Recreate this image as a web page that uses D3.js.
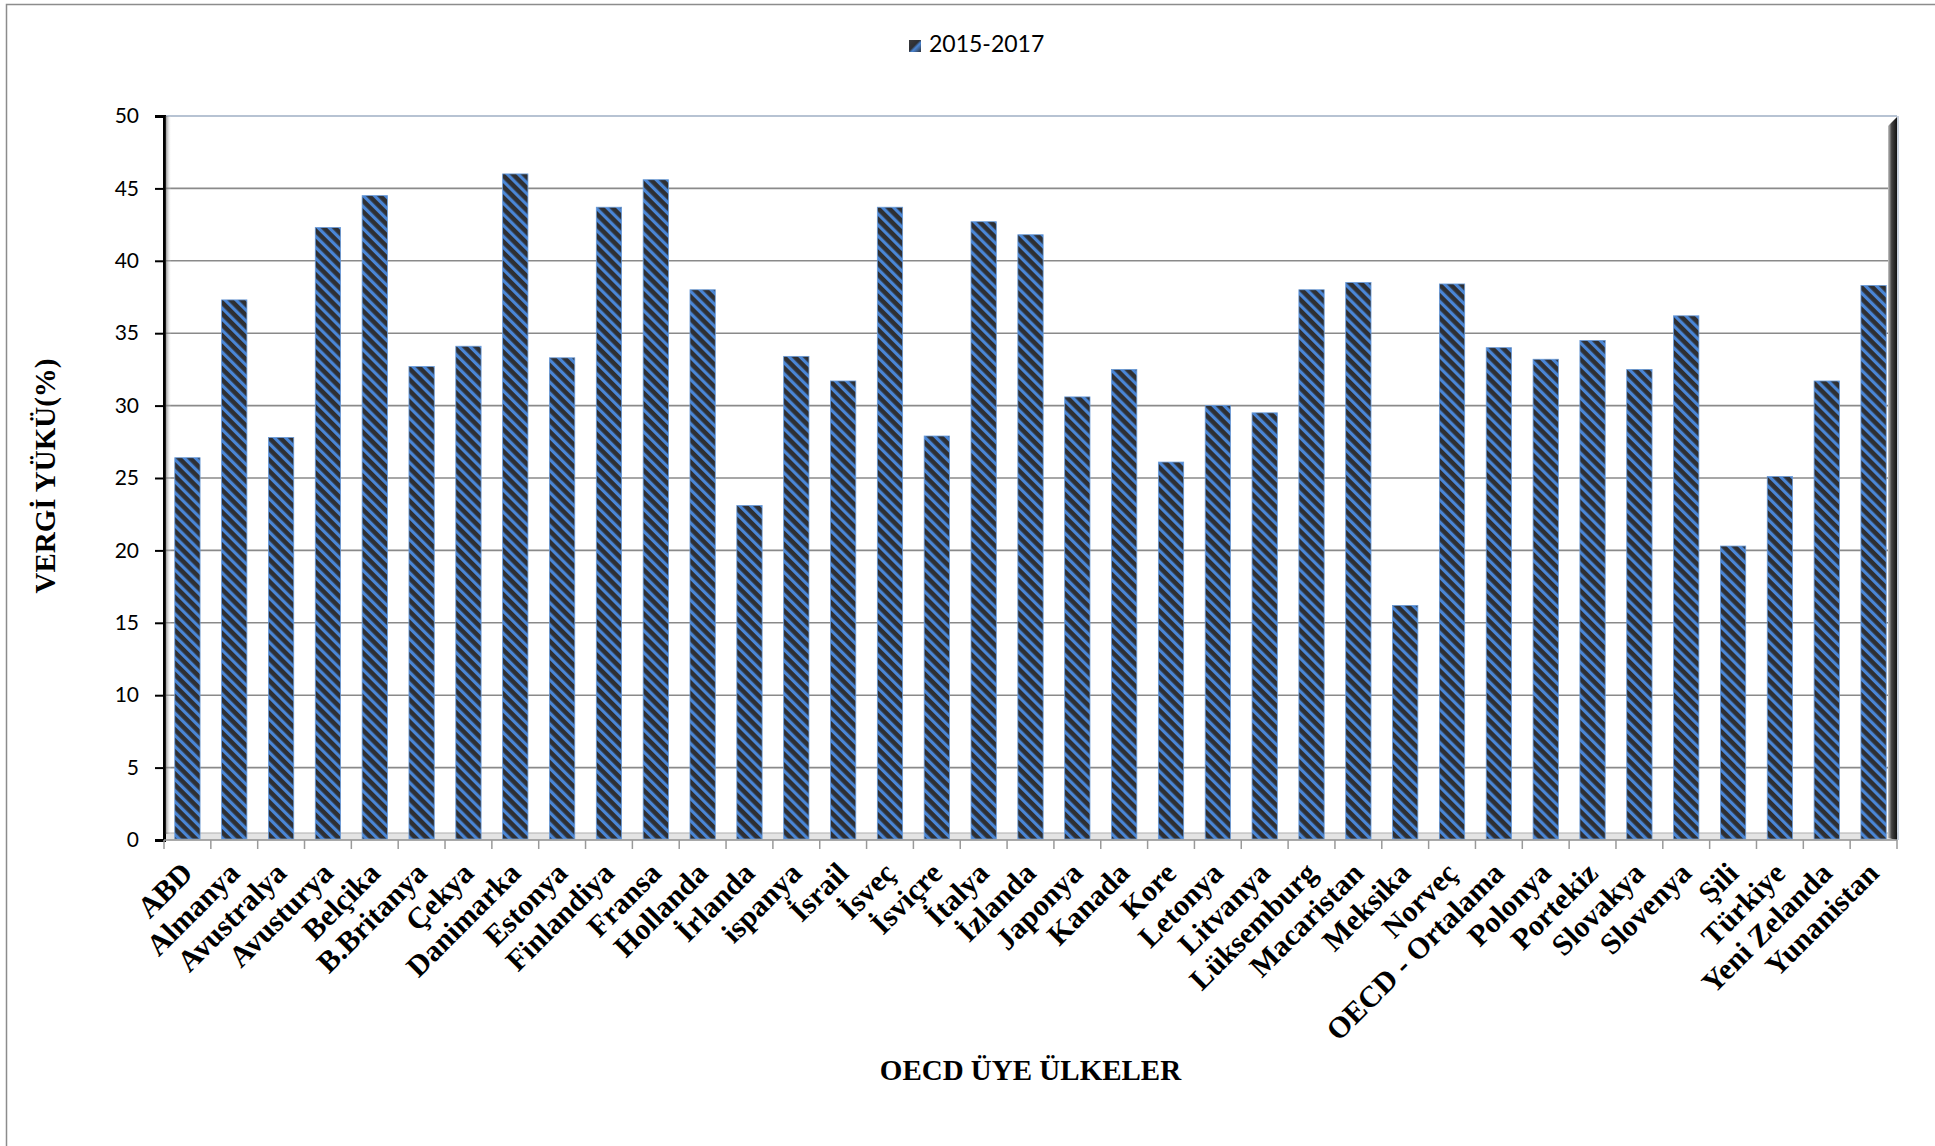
<!DOCTYPE html>
<html>
<head>
<meta charset="utf-8">
<script src="https://cdn.jsdelivr.net/npm/d3@7"></script>
<style>
  html, body { margin: 0; padding: 0; background: #fff; }
  svg { display: block; }
</style>
</head>
<body>
<svg id="chart" width="1935" height="1146"></svg>
<script>
// OECD member countries, tax burden (% of GDP), 2015-2017
const countries = [
  "ABD", "Almanya", "Avustralya", "Avusturya", "Belçika", "B.Britanya", "Çekya",
  "Danimarka", "Estonya", "Finlandiya", "Fransa", "Hollanda", "İrlanda", "ispanya",
  "İsrail", "İsveç", "İsviçre", "İtalya", "İzlanda", "Japonya", "Kanada", "Kore",
  "Letonya", "Litvanya", "Lüksemburg", "Macaristan", "Meksika", "Norveç",
  "OECD - Ortalama", "Polonya", "Portekiz", "Slovakya", "Slovenya", "Şili",
  "Türkiye", "Yeni Zelanda", "Yunanistan"
];
const taxBurden = [
  26.4, 37.3, 27.8, 42.3, 44.5, 32.7, 34.1,
  46.0, 33.3, 43.7, 45.6, 38.0, 23.1, 33.4,
  31.7, 43.7, 27.9, 42.7, 41.8, 30.6, 32.5, 26.1,
  30.0, 29.5, 38.0, 38.5, 16.2, 38.4,
  34.0, 33.2, 34.5, 32.5, 36.2, 20.3,
  25.1, 31.7, 38.3
];
const yTicks = [0, 5, 10, 15, 20, 25, 30, 35, 40, 45, 50];
const seriesName = "2015-2017";
const yTitle = "VERGİ YÜKÜ(%)";
const xTitle = "OECD ÜYE ÜLKELER";

const svg = d3.select("#chart");
const plot = { left: 164, right: 1897, top: 116, bottom: 840 };

const x = d3.scaleBand()
  .domain(countries)
  .range([plot.left, plot.right])
  .paddingInner(0.46)
  .paddingOuter(0.23);

const y = d3.scaleLinear()
  .domain([0, 50])
  .range([plot.bottom, plot.top]);

// ---- defs: striped bar fill and shading gradients ----
const defs = svg.append("defs");
const pat = defs.append("pattern")
  .attr("id", "stripes")
  .attr("patternUnits", "userSpaceOnUse")
  .attr("width", 7.8)
  .attr("height", 20)
  .attr("patternTransform", "rotate(-45)");
pat.append("rect").attr("width", 7.8).attr("height", 20).attr("fill", "#2e2f33");
pat.append("rect").attr("x", 0).attr("width", 3.2).attr("height", 20).attr("fill", "#4a86d6");

const gAxisShadow = defs.append("linearGradient").attr("id", "axisShadow")
  .attr("x1", "0").attr("x2", "1").attr("y1", "0").attr("y2", "0");
gAxisShadow.append("stop").attr("offset", "0").attr("stop-color", "#555").attr("stop-opacity", 0.7);
gAxisShadow.append("stop").attr("offset", "1").attr("stop-color", "#fff").attr("stop-opacity", 0);

const gWall = defs.append("linearGradient").attr("id", "wall")
  .attr("x1", "0").attr("x2", "1").attr("y1", "0").attr("y2", "0");
gWall.append("stop").attr("offset", "0").attr("stop-color", "#c8c8c8");
gWall.append("stop").attr("offset", "0.4").attr("stop-color", "#444");
gWall.append("stop").attr("offset", "1").attr("stop-color", "#111");

const gLegend = defs.append("linearGradient").attr("id", "legendFill")
  .attr("x1", "0").attr("x2", "1").attr("y1", "0").attr("y2", "1");
gLegend.append("stop").attr("offset", "0").attr("stop-color", "#3a3b3f");
gLegend.append("stop").attr("offset", "0.45").attr("stop-color", "#2e2f33");
gLegend.append("stop").attr("offset", "0.6").attr("stop-color", "#4a86d6");
gLegend.append("stop").attr("offset", "1").attr("stop-color", "#2e2f33");

// ---- outer chart border ----
svg.append("rect")
  .attr("x", 6.5).attr("y", 4.5)
  .attr("width", 1960).attr("height", 1180)
  .attr("fill", "none")
  .attr("stroke", "#8c8c8c")
  .attr("stroke-width", 1.5);

// ---- plot area frame (top edge) ----
svg.append("line")
  .attr("x1", plot.left).attr("x2", plot.right)
  .attr("y1", plot.top).attr("y2", plot.top)
  .attr("stroke", "#b7c3d3").attr("stroke-width", 2);

// ---- gridlines ----
svg.append("g")
  .selectAll("line")
  .data(yTicks.filter(d => d > 0 && d < 50))
  .join("line")
  .attr("x1", plot.left).attr("x2", plot.right - 6)
  .attr("y1", d => y(d)).attr("y2", d => y(d))
  .attr("stroke", "#8a8a8a").attr("stroke-width", 1.6);

// ---- floor strip ----
svg.append("rect")
  .attr("x", plot.left).attr("y", plot.bottom - 7)
  .attr("width", plot.right - plot.left).attr("height", 7)
  .attr("fill", "#e4e4e4")
  .attr("stroke", "#b0b0b0").attr("stroke-width", 1);

// ---- right wall edge ----
svg.append("path")
  .attr("d", `M${plot.right - 9},${plot.top + 10} L${plot.right},${plot.top + 1} L${plot.right},${plot.bottom} L${plot.right - 9},${plot.bottom - 2} Z`)
  .attr("fill", "url(#wall)");
svg.append("line")
  .attr("x1", plot.right + 1).attr("x2", plot.right + 1)
  .attr("y1", plot.top).attr("y2", plot.bottom)
  .attr("stroke", "#b7c3d3").attr("stroke-width", 1.5);

// ---- bars ----
svg.append("g")
  .selectAll("rect")
  .data(countries.map((c, i) => ({ c, v: taxBurden[i] })))
  .join("rect")
  .attr("x", d => x(d.c))
  .attr("y", d => y(d.v))
  .attr("width", x.bandwidth())
  .attr("height", d => y(0) - y(d.v) - 1)
  .attr("fill", "url(#stripes)")
  .attr("stroke", "#6a9ad6")
  .attr("stroke-width", 0.8);

// ---- y axis ----
const yAxis = svg.append("g")
  .attr("transform", `translate(${plot.left},0)`)
  .call(d3.axisLeft(y).tickValues(yTicks).tickSize(9).tickPadding(16).tickFormat(d3.format("d")));
yAxis.select(".domain").attr("stroke", "#000").attr("stroke-width", 3);
yAxis.selectAll(".tick line").attr("stroke", "#000").attr("stroke-width", 2);
yAxis.selectAll("text")
  .attr("font-family", "Lato, 'Open Sans', sans-serif")
  .attr("font-size", 21)
  .attr("fill", "#000");
svg.append("rect")
  .attr("x", plot.left + 1.5).attr("y", plot.top)
  .attr("width", 6).attr("height", plot.bottom - plot.top - 6)
  .attr("fill", "url(#axisShadow)");

// ---- x axis ----
const xAxis = svg.append("g")
  .attr("transform", `translate(0,${plot.bottom})`);
xAxis.append("line")
  .attr("x1", plot.left).attr("x2", plot.right)
  .attr("stroke", "#9a9a9a").attr("stroke-width", 1.5);
const boundaries = d3.range(countries.length + 1).map(i => plot.left + i * x.step());
xAxis.selectAll("line.tk")
  .data(boundaries)
  .join("line")
  .attr("class", "tk")
  .attr("x1", d => d).attr("x2", d => d)
  .attr("y1", 0).attr("y2", 9)
  .attr("stroke", "#9a9a9a").attr("stroke-width", 1.5);

svg.append("g")
  .selectAll("text")
  .data(countries)
  .join("text")
  .attr("transform", d => `translate(${x(d) + x.bandwidth() / 2 + 7},${plot.bottom + 35}) rotate(-45)`)
  .attr("text-anchor", "end")
  .attr("font-family", "'Liberation Serif', 'Times New Roman', serif")
  .attr("font-weight", "bold")
  .attr("font-size", 30)
  .attr("fill", "#000")
  .text(d => d);

// ---- axis titles ----
svg.append("text")
  .attr("transform", `translate(55,${(plot.top + plot.bottom) / 2 - 2}) rotate(-90)`)
  .attr("text-anchor", "middle")
  .attr("font-family", "'Liberation Serif', 'Times New Roman', serif")
  .attr("font-weight", "bold")
  .attr("font-size", 29)
  .text(yTitle);

svg.append("text")
  .attr("x", (plot.left + plot.right) / 2)
  .attr("y", 1080)
  .attr("text-anchor", "middle")
  .attr("font-family", "'Liberation Serif', 'Times New Roman', serif")
  .attr("font-weight", "bold")
  .attr("font-size", 29)
  .text(xTitle);

// ---- legend ----
const legend = svg.append("g").attr("transform", "translate(909,40)");
legend.append("rect")
  .attr("width", 12).attr("height", 12)
  .attr("fill", "url(#legendFill)");
legend.append("text")
  .attr("x", 20).attr("y", 12)
  .attr("font-family", "Lato, 'Open Sans', sans-serif")
  .attr("font-size", 23)
  .attr("fill", "#000")
  .text(seriesName);
</script>
</body>
</html>
